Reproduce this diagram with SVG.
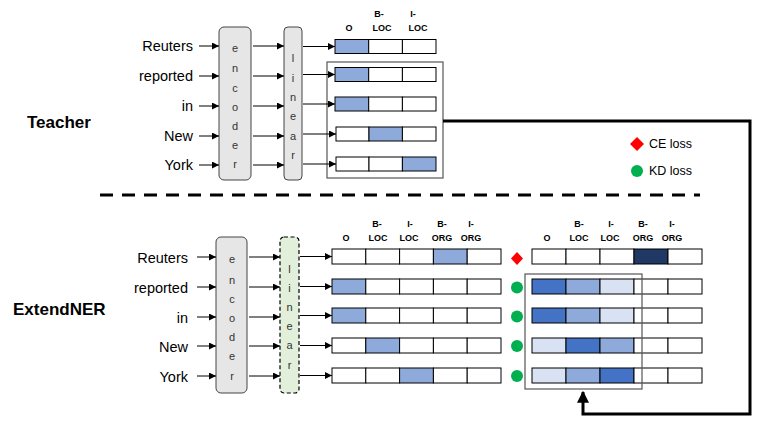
<svg xmlns="http://www.w3.org/2000/svg" width="762" height="430" viewBox="0 0 762 430">
<defs>
<style>
.w{font-family:"Liberation Sans",Arial,sans-serif;font-size:14.5px;fill:#000;text-anchor:end;dominant-baseline:central}
.l{font-family:"Liberation Sans",Arial,sans-serif;font-size:11px;fill:#333;text-anchor:middle;dominant-baseline:central}
.h{font-family:"Liberation Sans",Arial,sans-serif;font-size:9px;font-weight:bold;fill:#000;text-anchor:middle}
.t{font-family:"Liberation Sans",Arial,sans-serif;font-size:17px;font-weight:bold;fill:#000}
.g{font-family:"Liberation Sans",Arial,sans-serif;font-size:12.5px;fill:#000;dominant-baseline:central}
.c{stroke:#000;stroke-width:1;fill:#fff}
.b1{fill:#8eaadb}
.b2{fill:#4472c4}
.b3{fill:#d9e2f3}
.b4{fill:#1f3864}
.a{stroke:#000;stroke-width:1;fill:none;marker-end:url(#ah)}
.box{fill:none;stroke:#555;stroke-width:1.2}
</style>
<marker id="ah" viewBox="0 0 10 10" refX="10" refY="5" markerWidth="7" markerHeight="7" markerUnits="userSpaceOnUse" orient="auto"><path d="M0,0 L10,5 L0,10 z" fill="#000"/></marker>
<marker id="ahb" viewBox="0 0 10 10" refX="9" refY="5" markerWidth="4" markerHeight="4" orient="auto"><path d="M0,0 L10,5 L0,10 z" fill="#000"/></marker>
</defs>

<text class="t" x="27" y="128">Teacher</text>
<text class="t" x="13" y="315">ExtendNER</text>

<!-- Teacher -->
<g id="teacher-words">
<text class="w" x="193" y="46">Reuters</text>
<text class="w" x="193" y="76">reported</text>
<text class="w" x="193" y="106">in</text>
<text class="w" x="193" y="136">New</text>
<text class="w" x="193" y="165">York</text>
</g>
<g id="teacher-encoder">
<rect x="219" y="27" width="32" height="153" rx="5" fill="#e6e6e6" stroke="#444" stroke-width="1"/>
<text class="l" x="235" y="48">e</text><text class="l" x="235" y="68">n</text><text class="l" x="235" y="88">c</text><text class="l" x="235" y="107">o</text><text class="l" x="235" y="126">d</text><text class="l" x="235" y="145">e</text><text class="l" x="235" y="164">r</text>
</g>
<g id="teacher-linear">
<rect x="284" y="27" width="18" height="153" rx="4" fill="#e6e6e6" stroke="#444" stroke-width="1"/>
<text class="l" x="293" y="58">l</text><text class="l" x="293" y="78">i</text><text class="l" x="293" y="97">n</text><text class="l" x="293" y="116">e</text><text class="l" x="293" y="136">a</text><text class="l" x="293" y="155">r</text>
</g>
<g id="teacher-header">
<text class="h" x="349" y="31">O</text>
<text class="h" x="379" y="17">B-</text><text class="h" x="382" y="31">LOC</text>
<text class="h" x="413" y="17">I-</text><text class="h" x="418" y="31">LOC</text>
</g>
<g id="teacher-cells">
<rect class="c b1" x="335" y="39.5" width="33.7" height="14"/><rect class="c" x="368.7" y="39.5" width="33.7" height="14"/><rect class="c" x="402.4" y="39.5" width="33.6" height="14"/>
<rect class="c b1" x="335" y="67.5" width="33.7" height="14"/><rect class="c" x="368.7" y="67.5" width="33.7" height="14"/><rect class="c" x="402.4" y="67.5" width="33.6" height="14"/>
<rect class="c b1" x="335" y="97" width="33.7" height="14"/><rect class="c" x="368.7" y="97" width="33.7" height="14"/><rect class="c" x="402.4" y="97" width="33.6" height="14"/>
<rect class="c" x="336" y="127" width="33" height="14"/><rect class="c b1" x="369" y="127" width="33.4" height="14"/><rect class="c" x="402.4" y="127" width="33.6" height="14"/>
<rect class="c" x="336" y="157" width="33" height="14"/><rect class="c" x="369" y="157" width="33.4" height="14"/><rect class="c b1" x="402.4" y="157" width="33.6" height="14"/>
</g>
<rect id="teacher-outline" class="box" x="327" y="62" width="116" height="116"/>

<!-- Separator -->
<line x1="100" y1="195" x2="700" y2="195" stroke="#000" stroke-width="3" stroke-dasharray="13,9"/>

<!-- Legend -->
<g id="legend">
<path d="M637,137 L644,144 L637,151 L630,144 z" fill="#ff0000"/>
<text class="g" x="649" y="144">CE loss</text>
<circle cx="637" cy="171" r="6" fill="#00b050"/>
<text class="g" x="649" y="171">KD loss</text>
</g>

<!-- ExtendNER -->
<g id="student-words">
<text class="w" x="188" y="258">Reuters</text>
<text class="w" x="188" y="288">reported</text>
<text class="w" x="188" y="318">in</text>
<text class="w" x="188" y="347">New</text>
<text class="w" x="188" y="377">York</text>
</g>
<g id="student-encoder">
<rect x="216" y="237" width="31" height="156" rx="5" fill="#e6e6e6" stroke="#444" stroke-width="1"/>
<text class="l" x="232" y="259">e</text><text class="l" x="232" y="280">n</text><text class="l" x="232" y="299">c</text><text class="l" x="232" y="318">o</text><text class="l" x="232" y="337">d</text><text class="l" x="232" y="356">e</text><text class="l" x="232" y="376">r</text>
</g>
<g id="student-linear">
<rect x="280" y="237" width="19" height="156" rx="4" fill="#e2efda" stroke="#000" stroke-width="1.2" stroke-dasharray="4,2.5"/>
<text class="l" x="289.5" y="269">l</text><text class="l" x="289.5" y="288">i</text><text class="l" x="289.5" y="307">n</text><text class="l" x="289.5" y="326">e</text><text class="l" x="289.5" y="345">a</text><text class="l" x="289.5" y="365">r</text>
</g>
<g id="student-header">
<text class="h" x="346" y="241">O</text>
<text class="h" x="377" y="227">B-</text><text class="h" x="378" y="241">LOC</text>
<text class="h" x="410" y="227">I-</text><text class="h" x="409" y="241">LOC</text>
<text class="h" x="442" y="227">B-</text><text class="h" x="442" y="241">ORG</text>
<text class="h" x="471" y="227">I-</text><text class="h" x="471" y="241">ORG</text>
</g>
<g id="student-cells">
<rect class="c" x="332" y="249" width="33.8" height="15"/><rect class="c" x="365.8" y="249" width="33.8" height="15"/><rect class="c" x="399.6" y="249" width="33.8" height="15"/><rect class="c b1" x="433.4" y="249" width="33.8" height="15"/><rect class="c" x="467.2" y="249" width="33.8" height="15"/>
<rect class="c b1" x="332" y="279" width="33.8" height="15"/><rect class="c" x="365.8" y="279" width="33.8" height="15"/><rect class="c" x="399.6" y="279" width="33.8" height="15"/><rect class="c" x="433.4" y="279" width="33.8" height="15"/><rect class="c" x="467.2" y="279" width="33.8" height="15"/>
<rect class="c b1" x="332" y="308" width="33.8" height="15"/><rect class="c" x="365.8" y="308" width="33.8" height="15"/><rect class="c" x="399.6" y="308" width="33.8" height="15"/><rect class="c" x="433.4" y="308" width="33.8" height="15"/><rect class="c" x="467.2" y="308" width="33.8" height="15"/>
<rect class="c" x="332" y="338" width="33.8" height="15"/><rect class="c b1" x="365.8" y="338" width="33.8" height="15"/><rect class="c" x="399.6" y="338" width="33.8" height="15"/><rect class="c" x="433.4" y="338" width="33.8" height="15"/><rect class="c" x="467.2" y="338" width="33.8" height="15"/>
<rect class="c" x="332" y="368" width="33.8" height="15"/><rect class="c" x="365.8" y="368" width="33.8" height="15"/><rect class="c b1" x="399.6" y="368" width="33.8" height="15"/><rect class="c" x="433.4" y="368" width="33.8" height="15"/><rect class="c" x="467.2" y="368" width="33.8" height="15"/>
</g>
<g id="loss-markers">
<path d="M517,252 L523,258.5 L517,265 L511,258.5 z" fill="#ff0000"/>
<circle cx="517" cy="287.5" r="6" fill="#00b050"/>
<circle cx="517" cy="316.5" r="6" fill="#00b050"/>
<circle cx="517" cy="346" r="6" fill="#00b050"/>
<circle cx="517" cy="376" r="6" fill="#00b050"/>
</g>
<g id="soft-header">
<text class="h" x="547" y="241">O</text>
<text class="h" x="579" y="227">B-</text><text class="h" x="579" y="241">LOC</text>
<text class="h" x="611" y="227">I-</text><text class="h" x="610" y="241">LOC</text>
<text class="h" x="643" y="227">B-</text><text class="h" x="643" y="241">ORG</text>
<text class="h" x="672" y="227">I-</text><text class="h" x="672" y="241">ORG</text>
</g>
<g id="soft-cells">
<rect class="c" x="532" y="249" width="34" height="15"/><rect class="c" x="566" y="249" width="34" height="15"/><rect class="c" x="600" y="249" width="34" height="15"/><rect class="c b4" x="634" y="249" width="34" height="15"/><rect class="c" x="668" y="249" width="34" height="15"/>
<rect class="c b2" x="532" y="279" width="34" height="15"/><rect class="c b1" x="566" y="279" width="34" height="15"/><rect class="c b3" x="600" y="279" width="34" height="15"/><rect class="c" x="634" y="279" width="34" height="15"/><rect class="c" x="668" y="279" width="34" height="15"/>
<rect class="c b2" x="532" y="308" width="34" height="15"/><rect class="c b1" x="566" y="308" width="34" height="15"/><rect class="c b3" x="600" y="308" width="34" height="15"/><rect class="c" x="634" y="308" width="34" height="15"/><rect class="c" x="668" y="308" width="34" height="15"/>
<rect class="c b3" x="532" y="338" width="34" height="15"/><rect class="c b2" x="566" y="338" width="34" height="15"/><rect class="c b1" x="600" y="338" width="34" height="15"/><rect class="c" x="634" y="338" width="34" height="15"/><rect class="c" x="668" y="338" width="34" height="15"/>
<rect class="c b3" x="532" y="368" width="34" height="15"/><rect class="c b1" x="566" y="368" width="34" height="15"/><rect class="c b2" x="600" y="368" width="34" height="15"/><rect class="c" x="634" y="368" width="34" height="15"/><rect class="c" x="668" y="368" width="34" height="15"/>
</g>
<rect id="soft-outline" class="box" x="525" y="274" width="117" height="115"/>

<!-- Connectors -->
<g id="connectors">
<line class="a" x1="199" y1="46" x2="219" y2="46"/>
<line class="a" x1="199" y1="76" x2="219" y2="76"/>
<line class="a" x1="199" y1="106" x2="219" y2="106"/>
<line class="a" x1="199" y1="136" x2="219" y2="136"/>
<line class="a" x1="199" y1="165" x2="219" y2="165"/>
<line class="a" x1="253" y1="46" x2="284" y2="46"/>
<line class="a" x1="253" y1="76" x2="284" y2="76"/>
<line class="a" x1="253" y1="106" x2="284" y2="106"/>
<line class="a" x1="253" y1="136" x2="284" y2="136"/>
<line class="a" x1="253" y1="165" x2="284" y2="165"/>
<line class="a" x1="303" y1="46.5" x2="335" y2="46.5"/>
<line class="a" x1="303" y1="74.5" x2="335" y2="74.5"/>
<line class="a" x1="303" y1="104" x2="335" y2="104"/>
<line class="a" x1="303" y1="134" x2="336" y2="134"/>
<line class="a" x1="303" y1="164" x2="336" y2="164"/>

<line class="a" x1="197" y1="257" x2="216" y2="257"/>
<line class="a" x1="197" y1="287" x2="216" y2="287"/>
<line class="a" x1="197" y1="317" x2="216" y2="317"/>
<line class="a" x1="197" y1="346" x2="216" y2="346"/>
<line class="a" x1="197" y1="376" x2="216" y2="376"/>
<line class="a" x1="249" y1="257" x2="280" y2="257"/>
<line class="a" x1="249" y1="287" x2="280" y2="287"/>
<line class="a" x1="249" y1="317" x2="280" y2="317"/>
<line class="a" x1="249" y1="346" x2="280" y2="346"/>
<line class="a" x1="249" y1="376" x2="280" y2="376"/>
<line class="a" x1="300" y1="256.5" x2="332" y2="256.5"/>
<line class="a" x1="300" y1="286.5" x2="332" y2="286.5"/>
<line class="a" x1="300" y1="315.5" x2="332" y2="315.5"/>
<line class="a" x1="300" y1="345.5" x2="332" y2="345.5"/>
<line class="a" x1="300" y1="375.5" x2="332" y2="375.5"/>

<path d="M443,121 L750,121 L750,414 L583,414 L583,392" fill="none" stroke="#000" stroke-width="3" marker-end="url(#ahb)"/>
</g>
</svg>
